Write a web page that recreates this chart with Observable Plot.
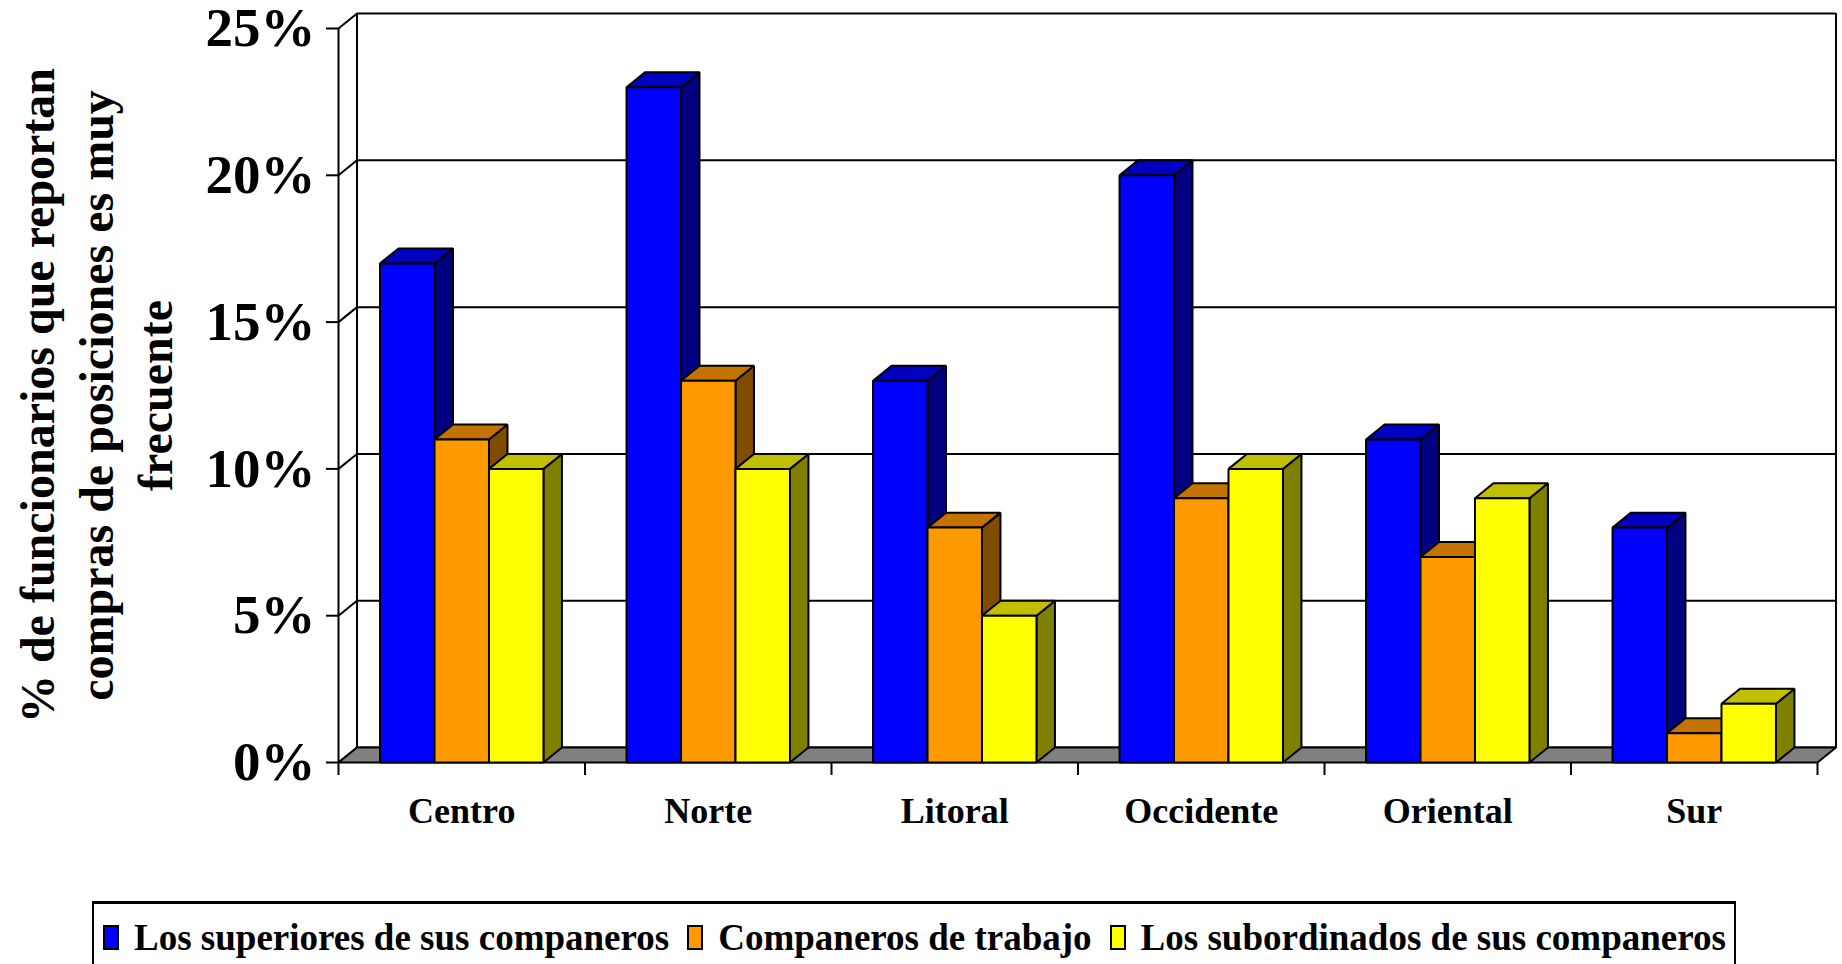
<!DOCTYPE html>
<html>
<head>
<meta charset="utf-8">
<script src="https://cdn.jsdelivr.net/npm/d3@7"></script>
<script src="https://cdn.jsdelivr.net/npm/@observablehq/plot@0.6"></script>
<style>
  html, body { margin: 0; padding: 0; background: #fff; }
  body { width: 1842px; height: 964px; position: relative; overflow: hidden; }
  #chart { position: absolute; left: 0; top: 0; }
  #legend {
    position: absolute; left: 92px; top: 901px; width: 1644px; height: 72px;
    box-sizing: border-box; border: 2px solid #000; border-top-width: 3px;
    display: flex; align-items: center; padding-left: 9px;
    font-family: "Liberation Serif", "Times New Roman", serif; font-weight: bold; font-size: 37px; color: #000;
  }
  #legend .item { display: flex; align-items: center; margin-right: 18px; white-space: nowrap; }
  #legend .sw { display: inline-block; width: 12px; height: 21px; border: 2px solid #000; margin-right: 15px; }
</style>
</head>
<body>
<div id="chart"></div>
<div id="legend"></div>
<script>
// ---- data ----
const categories = ["Centro", "Norte", "Litoral", "Occidente", "Oriental", "Sur"];
const seriesNames = ["Los superiores de sus companeros", "Companeros de trabajo", "Los subordinados de sus companeros"];
const superiores = [17, 23, 13, 20, 11, 8];
const companerosTrabajo = [11, 13, 8, 9, 7, 1];
const subordinados = [10, 10, 5, 10, 9, 2];
const yTicks = [0, 5, 10, 15, 20, 25];
const yTitle = ["% de funcionarios que reportan", "compras de posiciones es muy", "frecuente"];

// ---- styles ----
const faceColors = [
  {front: "#0000FF", top: "#0000C0", side: "#000080"},
  {front: "#FF9900", top: "#C47300", side: "#804C00"},
  {front: "#FFFF00", top: "#C0C000", side: "#808000"}
];
const W = 0.221;               // bar width in category units
const PAD = (1 - 3 * W) / 2;   // padding inside each category
const DX = 0.075;              // depth in category units
const DY = 0.51;               // depth in % units

const seriesValues = [superiores, companerosTrabajo, subordinados];

// build face polygons (drawing order: per category, per series: side, top, front)
const faces = [];
categories.forEach((c, i) => {
  seriesValues.forEach((vals, j) => {
    const v = vals[i];
    const x1 = i + PAD + j * W, x2 = x1 + W;
    const col = faceColors[j];
    const id = `${i}-${j}`;
    [[x2, 0], [x2, v], [x2 + DX, v + DY], [x2 + DX, DY]].forEach(([x, y]) => faces.push({id: id + "s", x, y, color: col.side}));
    [[x1, v], [x2, v], [x2 + DX, v + DY], [x1 + DX, v + DY]].forEach(([x, y]) => faces.push({id: id + "t", x, y, color: col.top}));
    [[x1, 0], [x2, 0], [x2, v], [x1, v]].forEach(([x, y]) => faces.push({id: id + "f", x, y, color: col.front}));
  });
});

const n = categories.length;
const floor = [[0, 0], [n, 0], [n + DX, DY], [DX, DY]].map(([x, y]) => ({x, y}));
const boundaries = d3.range(n + 1);

const chart = Plot.plot({
  width: 1842,
  height: 880,
  marginLeft: 338,
  marginRight: 25,
  marginTop: 28,
  marginBottom: 118,
  x: {domain: [0, n]},
  y: {domain: [0, 25]},
  color: {type: "identity"},
  style: {
    fontFamily: "'Liberation Serif', 'Times New Roman', serif",
    fontWeight: "bold",
    color: "#000",
    background: "#fff",
    overflow: "visible"
  },
  marks: [
    // back wall grid lines and frame
    Plot.ruleY(yTicks, {y: d => d + DY, x1: DX, x2: n + DX, stroke: "#000", strokeWidth: 2}),
    Plot.ruleX([DX, n + DX], {x: d => d, y1: DY, y2: 25 + DY, stroke: "#000", strokeWidth: 2}),
    // left wall diagonals
    Plot.link(yTicks, {x1: 0, y1: d => d, x2: DX, y2: d => d + DY, stroke: "#000", strokeWidth: 2}),
    // floor
    Plot.line(floor, {x: "x", y: "y", curve: "linear-closed", fill: "#808080", stroke: "#000", strokeWidth: 2}),
    // front y axis line
    Plot.ruleX([0], {y1: 0, y2: 25, stroke: "#000", strokeWidth: 2}),
    // y axis ticks and labels
    Plot.axisY(yTicks, {tickSize: 12, tickPadding: 11, fontSize: 55, tickFormat: d => d + "%", strokeWidth: 2, label: null}),
    // x axis ticks at category boundaries
    Plot.axisX(boundaries, {tickSize: 13, tickFormat: () => "", strokeWidth: 2, label: null}),
    // x category labels
    Plot.text(categories, {x: (d, i) => i + 0.5, frameAnchor: "bottom", dy: 60, fontSize: 36, text: d => d}),
    // y title
    Plot.text([yTitle.join("\n")], {frameAnchor: "left", dx: -244, rotate: -90, fontSize: 48, lineHeight: 1.23, textAnchor: "middle", lineAnchor: "middle"}),
    // 3D bars
    Plot.line(faces, {x: "x", y: "y", z: "id", fill: "color", stroke: "#000", strokeWidth: 2, curve: "linear-closed", strokeLinejoin: "miter"})
  ]
});
document.getElementById("chart").appendChild(chart);

// legend
const legend = document.getElementById("legend");
seriesNames.forEach((name, j) => {
  const item = document.createElement("span");
  item.className = "item";
  const sw = document.createElement("span");
  sw.className = "sw";
  sw.style.background = faceColors[j].front;
  item.appendChild(sw);
  item.appendChild(document.createTextNode(name));
  legend.appendChild(item);
});
</script>
</body>
</html>
